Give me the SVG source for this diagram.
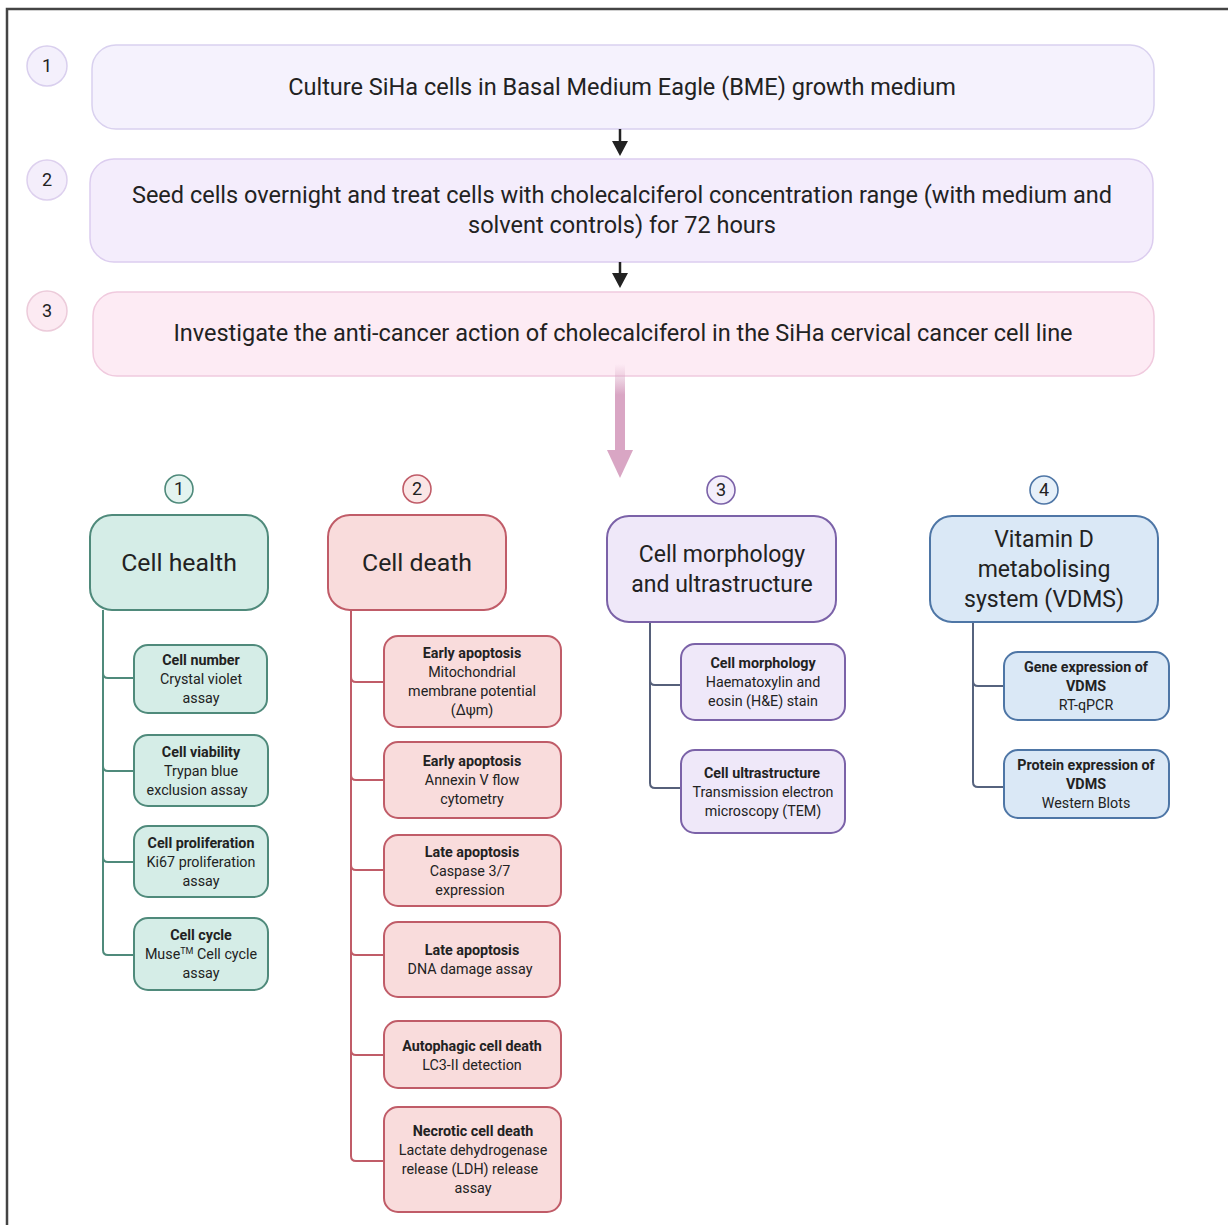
<svg xmlns="http://www.w3.org/2000/svg" width="1228" height="1225" viewBox="0 0 1228 1225">
<style>
text{font-family:Roboto,"Liberation Sans",sans-serif;fill:#222;text-anchor:middle}
.big{font-size:23.5px}
.cat{font-size:23px}
.cat2{font-size:24.8px}
.sub{font-size:14.3px}
.b{font-weight:bold}
.num{font-size:18px}
.teal{fill:#d5ede7;stroke:#4f8a7b;stroke-width:2}
.red{fill:#f9dcdc;stroke:#c05c68;stroke-width:2}
.pur{fill:#efe8f9;stroke:#7b62a8;stroke-width:2}
.blu{fill:#dae8f6;stroke:#4e76a6;stroke-width:2}
.tealc{fill:#e3f3ef;stroke:#4f8a7b;stroke-width:1.6}
.redc{fill:#fbe6e6;stroke:#c05c68;stroke-width:1.6}
.purc{fill:#f3eefb;stroke:#7b62a8;stroke-width:1.6}
.bluc{fill:#e6f0f9;stroke:#4e76a6;stroke-width:1.6}
.ln{fill:none;stroke-width:2}
</style>
<defs>
<linearGradient id="fade" x1="0" y1="0" x2="0" y2="1">
<stop offset="0" stop-color="#d9a6c4" stop-opacity="0"/>
<stop offset="0.35" stop-color="#d9a6c4" stop-opacity="1"/>
<stop offset="1" stop-color="#d9a6c4"/>
</linearGradient>
</defs>
<rect width="1228" height="1225" fill="#fff"/>
<path d="M7 1225 V9 H1228" fill="none" stroke="#444" stroke-width="2.5"/>

<g id="step1">
<circle cx="47" cy="66" r="20" fill="#f4f0fc" stroke="#d9cfee" stroke-width="1.5"/>
<text x="47" y="72" class="num">1</text>
<rect x="92" y="45" width="1062" height="84" rx="24" fill="#f5f2fd" stroke="#d9d1ef" stroke-width="1.5"/>
<text x="622" y="95" class="big">Culture SiHa cells in Basal Medium Eagle (BME) growth medium</text>
</g>
<g id="step2">
<circle cx="47" cy="180" r="20" fill="#f4eefb" stroke="#ddd0ee" stroke-width="1.5"/>
<text x="47" y="186" class="num">2</text>
<rect x="90" y="159" width="1063" height="103" rx="24" fill="#f4edfc" stroke="#dccdef" stroke-width="1.5"/>
<text x="622" y="203" class="big">Seed cells overnight and treat cells with cholecalciferol concentration range (with medium and</text>
<text x="622" y="233" class="big">solvent controls) for 72 hours</text>
</g>
<g id="step3">
<circle cx="47" cy="311" r="20" fill="#fceaf2" stroke="#eccbda" stroke-width="1.5"/>
<text x="47" y="317" class="num">3</text>
<rect x="93" y="292" width="1061" height="84" rx="24" fill="#fdebf4" stroke="#f0cade" stroke-width="1.5"/>
<text x="623" y="341" class="big">Investigate the anti-cancer action of cholecalciferol in the SiHa cervical cancer cell line</text>
</g>

<g id="connectors">
<line x1="620" y1="129" x2="620" y2="143" stroke="#222" stroke-width="2.5"/>
<polygon points="612,141 628,141 620,156" fill="#222"/>
<line x1="620" y1="262" x2="620" y2="275" stroke="#222" stroke-width="2.5"/>
<polygon points="612,273 628,273 620,288" fill="#222"/>
<rect x="615" y="364" width="10" height="88" fill="url(#fade)"/>
<polygon points="607,450 633,450 620,478" fill="#d9a6c4"/>
<g stroke="#4f8a7b" class="ln">
<path d="M103 610 V950 Q103 955 108 955 H134"/>
<path d="M103 673 Q103 678 108 678 H134"/>
<path d="M103 766 Q103 771 108 771 H134"/>
<path d="M103 857 Q103 862 108 862 H134"/>
</g>
<g stroke="#c05c68" class="ln">
<path d="M351 610 V1156 Q351 1161 356 1161 H384"/>
<path d="M351 677 Q351 682 356 682 H384"/>
<path d="M351 775 Q351 780 356 780 H384"/>
<path d="M351 865 Q351 870 356 870 H384"/>
<path d="M351 950 Q351 955 356 955 H384"/>
<path d="M351 1050 Q351 1055 356 1055 H384"/>
</g>
<g stroke="#56607a" class="ln">
<path d="M650 622 V783 Q650 788 655 788 H681"/>
<path d="M650 680 Q650 685 655 685 H681"/>
</g>
<g stroke="#56637e" class="ln">
<path d="M973 622 V782 Q973 787 978 787 H1004"/>
<path d="M973 681 Q973 686 978 686 H1004"/>
</g>
</g>

<g id="cat1">
<circle cx="179" cy="489" r="14" class="tealc"/>
<text x="179" y="495" class="num">1</text>
<rect x="90" y="515" width="178" height="95" rx="22" class="teal"/>
<text x="179" y="571" class="cat2">Cell health</text>
</g>
<g id="c1s1"><rect x="134" y="645" width="133" height="68" rx="14" class="teal"/>
<text x="201" y="665" class="sub b">Cell number</text><text x="201" y="684" class="sub">Crystal violet</text><text x="201" y="703" class="sub">assay</text></g>
<g id="c1s2"><rect x="134" y="735" width="134" height="71" rx="14" class="teal"/>
<text x="201" y="757" class="sub b">Cell viability</text><text x="201" y="776" class="sub">Trypan blue</text><text x="197" y="795" class="sub">exclusion assay</text></g>
<g id="c1s3"><rect x="134" y="826" width="134" height="71" rx="14" class="teal"/>
<text x="201" y="848" class="sub b">Cell proliferation</text><text x="201" y="867" class="sub">Ki67 proliferation</text><text x="201" y="886" class="sub">assay</text></g>
<g id="c1s4"><rect x="134" y="918" width="134" height="72" rx="14" class="teal"/>
<text x="201" y="940" class="sub b">Cell cycle</text><text x="201" y="959" class="sub">Muse<tspan font-size="9" dy="-5">TM</tspan><tspan dy="5"> Cell cycle</tspan></text><text x="201" y="978" class="sub">assay</text></g>

<g id="cat2">
<circle cx="417" cy="489" r="14" class="redc"/>
<text x="417" y="495" class="num">2</text>
<rect x="328" y="515" width="178" height="95" rx="22" class="red"/>
<text x="417" y="571" class="cat2">Cell death</text>
</g>
<g id="c2s1"><rect x="384" y="636" width="177" height="91" rx="14" class="red"/>
<text x="472" y="658" class="sub b">Early apoptosis</text><text x="472" y="677" class="sub">Mitochondrial</text><text x="472" y="696" class="sub">membrane potential</text><text x="472" y="715" class="sub">(Δψm)</text></g>
<g id="c2s2"><rect x="384" y="742" width="177" height="76" rx="14" class="red"/>
<text x="472" y="766" class="sub b">Early apoptosis</text><text x="472" y="785" class="sub">Annexin V flow</text><text x="472" y="804" class="sub">cytometry</text></g>
<g id="c2s3"><rect x="384" y="835" width="177" height="71" rx="14" class="red"/>
<text x="472" y="857" class="sub b">Late apoptosis</text><text x="470" y="876" class="sub">Caspase 3/7</text><text x="470" y="895" class="sub">expression</text></g>
<g id="c2s4"><rect x="384" y="922" width="176" height="75" rx="14" class="red"/>
<text x="472" y="955" class="sub b">Late apoptosis</text><text x="470" y="974" class="sub">DNA damage assay</text></g>
<g id="c2s5"><rect x="384" y="1021" width="177" height="67" rx="14" class="red"/>
<text x="472" y="1051" class="sub b">Autophagic cell death</text><text x="472" y="1070" class="sub">LC3-II detection</text></g>
<g id="c2s6"><rect x="384" y="1107" width="177" height="105" rx="14" class="red"/>
<text x="473" y="1136" class="sub b">Necrotic cell death</text><text x="473" y="1155" class="sub">Lactate dehydrogenase</text><text x="470" y="1174" class="sub">release (LDH) release</text><text x="473" y="1193" class="sub">assay</text></g>

<g id="cat3">
<circle cx="721" cy="490" r="14" class="purc"/>
<text x="721" y="496" class="num">3</text>
<rect x="607" y="516" width="229" height="106" rx="22" class="pur"/>
<text x="722" y="562" class="cat">Cell morphology</text>
<text x="722" y="592" class="cat">and ultrastructure</text>
</g>
<g id="c3s1"><rect x="681" y="644" width="164" height="76" rx="14" class="pur"/>
<text x="763" y="668" class="sub b">Cell morphology</text><text x="763" y="687" class="sub">Haematoxylin and</text><text x="763" y="706" class="sub">eosin (H&amp;E) stain</text></g>
<g id="c3s2"><rect x="681" y="750" width="164" height="83" rx="14" class="pur"/>
<text x="762" y="778" class="sub b">Cell ultrastructure</text><text x="763" y="797" class="sub">Transmission electron</text><text x="763" y="816" class="sub">microscopy (TEM)</text></g>

<g id="cat4">
<circle cx="1044" cy="490" r="14" class="bluc"/>
<text x="1044" y="496" class="num">4</text>
<rect x="930" y="516" width="228" height="106" rx="22" class="blu"/>
<text x="1044" y="547" class="cat">Vitamin D</text>
<text x="1044" y="577" class="cat">metabolising</text>
<text x="1044" y="607" class="cat">system (VDMS)</text>
</g>
<g id="c4s1"><rect x="1004" y="652" width="165" height="68" rx="14" class="blu"/>
<text x="1086" y="672" class="sub b">Gene expression of</text><text x="1086" y="691" class="sub b">VDMS</text><text x="1086" y="710" class="sub">RT-qPCR</text></g>
<g id="c4s2"><rect x="1004" y="750" width="165" height="68" rx="14" class="blu"/>
<text x="1086" y="770" class="sub b">Protein expression of</text><text x="1086" y="789" class="sub b">VDMS</text><text x="1086" y="808" class="sub">Western Blots</text></g>
</svg>
